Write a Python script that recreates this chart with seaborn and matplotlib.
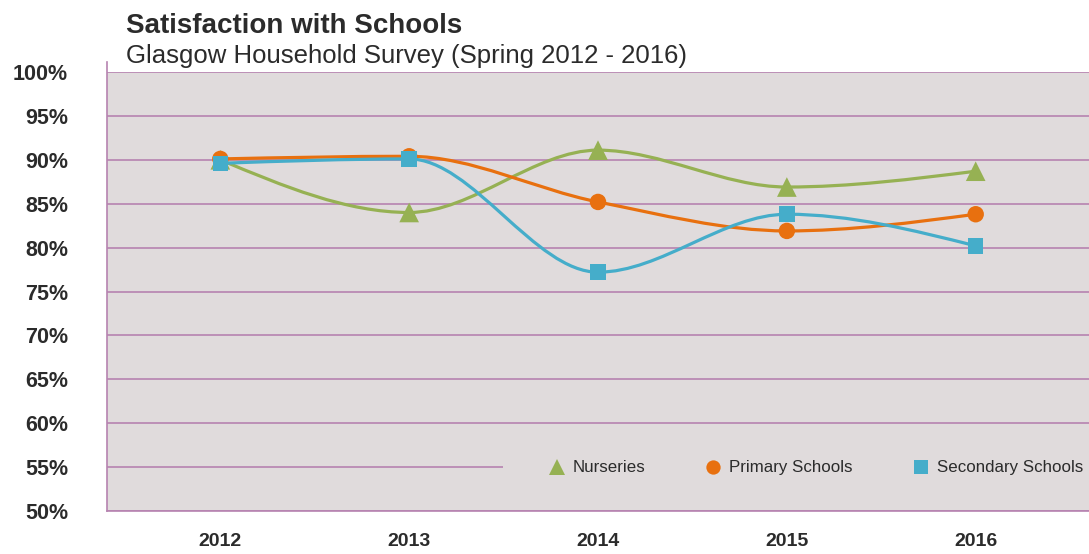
"""Satisfaction with Schools - Glasgow Household Survey line chart."""

import matplotlib
matplotlib.use("Agg")
import matplotlib.pyplot as plt
import numpy as np
import pandas as pd
import seaborn as sns
from matplotlib.patches import PathPatch, Rectangle
from matplotlib.path import Path

YEARS = ["2012", "2013", "2014", "2015", "2016"]
NURSERIES = [90.0, 84.0, 91.1, 86.9, 88.7]
PRIMARY = [90.1, 90.4, 85.2, 81.9, 83.8]
SECONDARY = [89.6, 90.1, 77.2, 83.8, 80.2]
SERIES_NAMES = ["Nurseries", "Primary Schools", "Secondary Schools"]
Y_TICKS = list(range(50, 101, 5))

COLORS = {
    "Nurseries": "#96B153",
    "Primary Schools": "#E8700F",
    "Secondary Schools": "#45ADCA",
}
MARKERS = {"Nurseries": "^", "Primary Schools": "o", "Secondary Schools": "s"}
SIZES = {"Nurseries": 200, "Primary Schools": 140, "Secondary Schools": 125}
LEGEND_MS = {"Nurseries": 12, "Primary Schools": 10.3, "Secondary Schools": 9.6}
BG = "#E0DBDC"
GRID = "#B683B0"
TEXT = "#2B2B2B"


def _slope(s0, s1):
    # monotone tangent (no overshoot at local extrema)
    p = (s0 + s1) / 2
    return (np.sign(s0) + np.sign(s1)) * min(abs(s0), abs(s1), 0.5 * abs(p))


def smooth_path(xs, ys):
    """Monotone cubic Bezier path through the points."""
    xs = np.asarray(xs, dtype=float)
    ys = np.asarray(ys, dtype=float)
    n = len(xs)
    sec = np.diff(ys) / np.diff(xs)
    t = np.zeros(n)
    for i in range(1, n - 1):
        t[i] = _slope(sec[i - 1], sec[i])
    t[0] = (3 * sec[0] - t[1]) / 2
    t[-1] = (3 * sec[-1] - t[-2]) / 2
    verts = [(xs[0], ys[0])]
    codes = [Path.MOVETO]
    for i in range(n - 1):
        dx = (xs[i + 1] - xs[i]) / 3
        verts += [(xs[i] + dx, ys[i] + dx * t[i]),
                  (xs[i + 1] - dx, ys[i + 1] - dx * t[i + 1]),
                  (xs[i + 1], ys[i + 1])]
        codes += [Path.CURVE4] * 3
    return Path(verts, codes)


sns.set_theme(style="white")
plt.rcParams["font.family"] = ["Liberation Sans", "DejaVu Sans"]

df = pd.DataFrame({
    "x": list(range(len(YEARS))) * 3,
    "value": NURSERIES + PRIMARY + SECONDARY,
    "series": [s for s in SERIES_NAMES for _ in YEARS],
})

fig = plt.figure(figsize=(10.89, 5.54), dpi=100)
ax = fig.add_axes([107 / 1089, 43 / 554, 982 / 1089, 439 / 554])
ax.set_facecolor(BG)

# smoothed lines
for name in SERIES_NAMES:
    sub = df[df["series"] == name]
    patch = PathPatch(smooth_path(sub["x"], sub["value"]), fill=False,
                      edgecolor=COLORS[name], linewidth=2.3, zorder=3,
                      capstyle="round", joinstyle="round")
    ax.add_patch(patch)

sns.scatterplot(data=df, x="x", y="value", hue="series", style="series",
                size="series", sizes=SIZES, palette=COLORS, markers=MARKERS,
                hue_order=SERIES_NAMES, style_order=SERIES_NAMES,
                size_order=SERIES_NAMES, linewidth=0, ax=ax, zorder=4)

ax.set_xlim(-0.6, 4.6)
ax.set_ylim(50, 100)
ax.set_yticks(Y_TICKS)
ax.set_yticklabels([f"{v}%" for v in Y_TICKS])
ax.set_xticks(range(len(YEARS)))
ax.set_xticklabels(YEARS)
ax.set_xlabel("")
ax.set_ylabel("")
ax.yaxis.grid(True, color=GRID, linewidth=1.2)
ax.xaxis.grid(False)
ax.set_axisbelow(True)
ax.tick_params(axis="y", length=0, pad=28, labelsize=15.5, labelcolor=TEXT)
ax.tick_params(axis="x", length=0, pad=16, labelsize=14, labelcolor=TEXT)
for lbl in ax.get_xticklabels() + ax.get_yticklabels():
    lbl.set_fontweight("bold")

for side in ["top", "right"]:
    ax.spines[side].set_visible(False)
for side in ["left", "bottom"]:
    ax.spines[side].set_color(GRID)
    ax.spines[side].set_linewidth(1.2)
ax.spines["left"].set_bounds(50, 101.1)

# legend area hides the gridline behind it
ax.add_patch(Rectangle((0.4033, 0.06), 0.6, 0.08, transform=ax.transAxes,
                       facecolor=BG, edgecolor="none", zorder=1))

handles, labels = ax.get_legend_handles_labels()
for h, lab in zip(handles, labels):
    h.set_markersize(LEGEND_MS.get(lab, 10))
    h.set_markeredgewidth(0)
leg = ax.legend(handles, labels, loc="center left", bbox_to_anchor=(0.4496, 0.098),
                ncol=3, frameon=False, fontsize=12.2, handlelength=1.0,
                handletextpad=0.44, columnspacing=3.5, borderpad=0,
                borderaxespad=0)
leg.set_zorder(5)
for t in leg.get_texts():
    t.set_color(TEXT)

fig.text(126 / 1089, 1 - 33 / 554, "Satisfaction with Schools", fontsize=20,
         fontweight="bold", color=TEXT, va="baseline")
fig.text(126 / 1089, 1 - 63 / 554, "Glasgow Household Survey (Spring 2012 - 2016)",
         fontsize=18.5, color=TEXT, va="baseline")

fig.savefig("out.png", dpi=100, facecolor="white")
